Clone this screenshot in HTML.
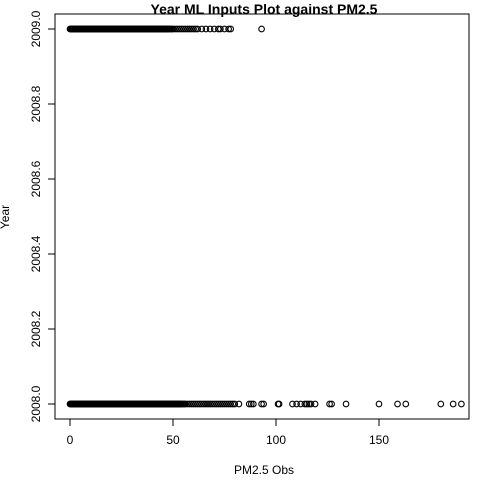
<!DOCTYPE html>
<html><head><meta charset="utf-8"><style>
html,body{margin:0;padding:0;background:#fff;}
svg{display:block;font-family:"Liberation Sans",sans-serif;}
</style></head><body>
<svg id="chart" width="480" height="480" viewBox="0 0 480 480">
<text x="264" y="14" font-size="14" font-weight="bold" text-anchor="middle">Year ML Inputs Plot against PM2.5</text>
<rect x="55" y="14" width="414" height="405" fill="none" stroke="#000" stroke-width="1"/>
<g id="xaxis"></g>
<g id="yaxis"></g>
<g id="points"></g>
<text x="264" y="474" font-size="12" text-anchor="middle">PM2.5 Obs</text>
<text x="0" y="0" font-size="12" text-anchor="middle" transform="translate(9,217) rotate(-90)">Year</text>
</svg>
<script>
const xTicks=[0,50,100,150];
const yTicks=[2008.0,2008.2,2008.4,2008.6,2008.8,2009.0];
const pm2008=[0,0.3,0.6,0.9,1.2,1.5,1.8,2.1,2.4,2.7,3,3.3,3.6,3.9,4.2,4.5,4.8,5.1,5.4,5.7,6,6.3,6.6,6.9,7.2,7.5,7.8,8.1,8.4,8.7,9,9.3,9.6,9.9,10.2,10.5,10.8,11.1,11.4,11.7,12,12.3,12.6,12.9,13.2,13.5,13.8,14.1,14.4,14.7,15,15.3,15.6,15.9,16.2,16.5,16.8,17.1,17.4,17.7,18,18.3,18.6,18.9,19.2,19.5,19.8,20.1,20.4,20.7,21,21.3,21.6,21.9,22.2,22.5,22.8,23.1,23.4,23.7,24,24.3,24.6,24.9,25.2,25.5,25.8,26.1,26.4,26.7,27,27.3,27.6,27.9,28.2,28.5,28.8,29.1,29.4,29.7,30,30.3,30.6,30.9,31.2,31.5,31.8,32.1,32.4,32.7,33,33.3,33.6,33.9,34.2,34.5,34.8,35.1,35.4,35.7,36,36.3,36.6,36.9,37.2,37.5,37.8,38.1,38.4,38.7,39,39.3,39.6,39.9,40.2,40.5,40.8,41.1,41.4,41.7,42,42.3,42.6,42.9,43.2,43.5,43.8,44.1,44.4,44.7,45,45.3,45.6,45.9,46.2,46.5,46.8,47.1,47.4,47.7,48,48.3,48.6,48.9,49.2,49.5,49.8,50.1,50.4,50.7,51,51.3,51.6,51.9,52.2,52.5,52.8,53.1,53.4,53.7,54,54.5,55,55.5,56,57,58,59,60,61,62,63,64,65,66,67,68,69,70,71,72,73,74,75,76,77,78,79,80,82,87,88,89,93,94,101,101.5,108,110,112,114,115,116,117,119,126,127,134,150,159,163,180,186,190];
const pm2009=[0,0.3,0.6,0.9,1.2,1.5,1.8,2.1,2.4,2.7,3,3.3,3.6,3.9,4.2,4.5,4.8,5.1,5.4,5.7,6,6.3,6.6,6.9,7.2,7.5,7.8,8.1,8.4,8.7,9,9.3,9.6,9.9,10.2,10.5,10.8,11.1,11.4,11.7,12,12.3,12.6,12.9,13.2,13.5,13.8,14.1,14.4,14.7,15,15.3,15.6,15.9,16.2,16.5,16.8,17.1,17.4,17.7,18,18.3,18.6,18.9,19.2,19.5,19.8,20.1,20.4,20.7,21,21.3,21.6,21.9,22.2,22.5,22.8,23.1,23.4,23.7,24,24.3,24.6,24.9,25.2,25.5,25.8,26.1,26.4,26.7,27,27.3,27.6,27.9,28.2,28.5,28.8,29.1,29.4,29.7,30,30.3,30.6,30.9,31.2,31.5,31.8,32.1,32.4,32.7,33,33.3,33.6,33.9,34.2,34.5,34.8,35.1,35.4,35.7,36,36.3,36.6,36.9,37.2,37.5,37.8,38.1,38.4,38.7,39,39.3,39.6,39.9,40.2,40.5,40.8,41.1,41.4,41.7,42,42.3,42.6,42.9,43.2,43.5,43.8,44.1,44.4,44.7,45,45.3,45.6,45.9,46.2,46.5,46.8,47.1,47.4,47.7,48,48.5,49,49.5,50,51,52,53,54,55,56,57,58,59,60,61,62,64,66,68,70,72,73,75,77,78,93];
const NS="http://www.w3.org/2000/svg";
const xs=v=>70+(v-0)*(379-70)/150;
const ys=v=>404-(v-2008)*(404-29)/1;
function mk(tag,attrs,parent){const e=document.createElementNS(NS,tag);for(const k in attrs)e.setAttribute(k,attrs[k]);parent.appendChild(e);return e;}
const xa=document.getElementById('xaxis'),ya=document.getElementById('yaxis'),pg=document.getElementById('points');
mk('line',{x1:xs(0),x2:xs(150),y1:419,y2:419,stroke:'#000'},xa);
xTicks.forEach(t=>{
  const l=mk('line',{x1:xs(t),x2:xs(t),y1:419,y2:426,stroke:'#000'},xa);
  
  
  const tx=mk('text',{x:xs(t),y:444,'font-size':12,'text-anchor':'middle'},xa);
  tx.textContent=String(t);
  
  
});
mk('line',{x1:55,x2:55,y1:ys(2008),y2:ys(2009),stroke:'#000'},ya);
yTicks.forEach(t=>{
  const l=mk('line',{x1:48,x2:55,y1:ys(t),y2:ys(t),stroke:'#000'},ya);
  
  
  const tx=mk('text',{x:0,y:0,'font-size':12,'text-anchor':'middle',transform:`translate(40,${ys(t)}) rotate(-90)`},ya);
  tx.textContent=t.toFixed(1);
  
  
});
function plot(arr,year){
  arr.forEach(v=>{
    const c=mk('circle',{cx:xs(v),cy:ys(year),r:2.8,fill:'none',stroke:'#000','stroke-width':1.1},pg);
    
    
  });
}
plot(pm2008,2008);plot(pm2009,2009);
</script>
</body></html>
